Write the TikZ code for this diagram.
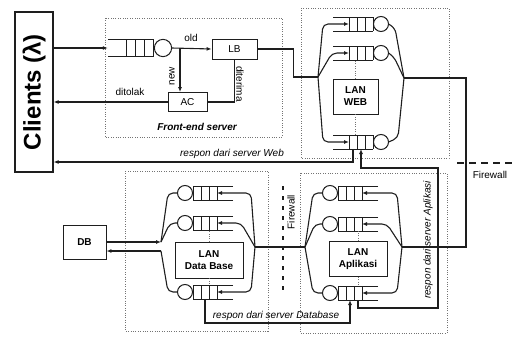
\documentclass[tikz,border=0pt]{standalone}
\usepackage{fontspec}
\setmainfont{Liberation Sans}
\usetikzlibrary{arrows.meta}
\definecolor{ink}{HTML}{1E1E1E}

% queue: server circle at (0,0), open tail to the left (xscale=-1 turns it round)
\newcommand\drawqueue[3][]{%
  \begin{scope}[shift={(#3)},#1]
    \draw[q] (0,0) circle (7.5);
    \draw[q] (-48,-7) -- (-8,-7) (-48,7) -- (-8,7);
    \foreach \bx in {-8,-16,-24,-32} \draw[q] (\bx,-7) -- (\bx,7);
    \coordinate (#2-in) at (-32,0);
    \coordinate (#2-out) at (7.5,0);
    \coordinate (#2-tail) at (-48,0);
    \coordinate (#2-t) at (-20,-7);
    \coordinate (#2-bA) at (-28,7);
    \coordinate (#2-bB) at (-20,7);
  \end{scope}}

\begin{document}
\begin{tikzpicture}[
  x=1pt, y=-1pt,
  >={Latex[length=5pt,width=4pt]},
  w/.style={draw=ink, line width=1.1pt},
  q/.style={draw=ink, line width=1pt},
  b/.style={draw=ink, line width=0.9pt, align=center, inner sep=1pt},
  grp/.style={draw=black!55, line width=0.8pt, dash pattern=on 0.8pt off 1.6pt},
  fw/.style={draw=ink, line width=1.8pt, dash pattern=on 7pt off 5pt},
  ital/.style={font=\itshape, inner sep=1pt},
  lbl/.style={inner sep=1pt}
]
  \useasboundingbox (0,0) rectangle (515,343);

  % clients
  \node[b, line width=1.2pt, minimum width=38pt, minimum height=160pt,
        font=\fontsize{24}{28}\selectfont\bfseries] (Clients) at (34,92) {\rotatebox{90}{Clients (λ)}};
  \coordinate (rw) at (0,162);

  % front-end server
  \draw[grp] (105,18) rectangle (282,137);
  \drawqueue[scale=1.15]{fq}{163,48}
  \node[b, minimum width=45pt, minimum height=20pt] (LB) at (234.5,49) {LB};
  \node[b, minimum width=39pt, minimum height=19pt] (AC) at (187.5,102) {AC};
  \coordinate (jf) at (180,48);
  \draw[w,->] (Clients.east |- fq-tail) -- (fq-tail);
  \draw[w,->] (fq-out) -- (LB.west);
  \draw[w,->] (jf) -- (jf |- AC.north);
  \draw[w] (AC.east) -| (LB.south);
  \draw[w,->] (AC.west) -- (AC.west -| Clients.east);
  \node[lbl] (old) at (191,38) {old};
  \node[lbl, rotate=90] (new) at (172,76) {new};
  \node[lbl, rotate=-90] (acc) at (240,84) {diterima};
  \node[lbl] (rej) at (130,92) {ditolak};
  \node[font=\bfseries\itshape] (fe) at (197,127) {Front-end server};

  % LAN WEB
  \draw[grp] (301,8) rectangle (449,158);
  \drawqueue{w1}{381,24}
  \drawqueue{w2}{381,53}
  \drawqueue{w3}{381,142}
  \node[b, font=\bfseries, minimum width=45pt, minimum height=35pt] (web) at (355.5,96.5) {LAN\\WEB};
  \draw[grp] (web.north) -- (web.north |- w2-bB);
  \draw[grp] (web.south) -- (web.south |- w3-t);
  \coordinate (jwl) at (318,77);
  \coordinate (jwr) at (404,78);
  \draw[w] (LB.east) -- ++(36,0) |- (jwl);
  \draw[w,->,rounded corners=5pt] (jwl) -- (323,24) -- (w1-in);
  \draw[w,->,rounded corners=5pt] (jwl) -- (332,53) -- (w2-in);
  \draw[w,->,rounded corners=5pt] (jwl) -- (323,142) -- (w3-in);
  \draw[w,rounded corners=5pt] (w1-out) -- (395,28) -- (jwr);
  \draw[w,rounded corners=5pt] (w2-out) -- (394,57) -- (jwr);
  \draw[w,rounded corners=5pt] (w3-out) -- (398,138) -- (jwr);

  % firewall
  \coordinate (fwa) at (457,163);
  \coordinate (fwb) at (515,163);
  \draw[fw] (fwa) -- (fwb);
  \node[lbl] (fwl) at (490,175) {Firewall};
  \coordinate (fva) at (283,186);
  \coordinate (fvb) at (283,292);
  \draw[fw, line width=1.6pt, dash pattern=on 4pt off 6pt] (fva) -- (fvb);
  \node[lbl, rotate=90] (fvl) at (291,212) {Firewall};

  % LAN Data Base
  \draw[grp] (125,171) rectangle (268,331);
  \drawqueue[xscale=-1]{d1}{185,193}
  \drawqueue[xscale=-1]{d2}{185,223}
  \drawqueue[xscale=-1]{d3}{185,292}
  \node[b, font=\bfseries, minimum width=68pt, minimum height=36pt] (dbase) at (209,260) {LAN\\Data Base};
  \draw[grp] (dbase.north) -- (dbase.north |- d2-bB);
  \draw[grp] (dbase.south) -- (dbase.south |- d3-t);
  \node[b, font=\bfseries, minimum width=43pt, minimum height=34pt] (DB) at (84.5,242) {DB};
  \coordinate (jdl1) at (161,242);
  \coordinate (jdl2) at (161,251);
  \coordinate (jdr) at (255,247);
  \draw[w,->] (DB.east |- jdl1) -- (jdl1);
  \draw[w,->] (jdl2) -- (DB.east |- jdl2);
  \draw[w,rounded corners=5pt] (d1-out) -- (168,193) -- (jdl1);
  \draw[w,rounded corners=5pt] (d2-out) -- (170,223) -- (jdl1);
  \draw[w,rounded corners=5pt] (d3-out) -- (168,292) -- (jdl2);
  \draw[w,->,rounded corners=5pt] (jdr) -- (251,193) -- (d1-in);
  \draw[w,->,rounded corners=5pt] (jdr) -- (241,223) -- (d2-in);
  \draw[w,->,rounded corners=5pt] (jdr) -- (251,292) -- (d3-in);

  % LAN Aplikasi
  \draw[grp] (300,173) rectangle (447,333);
  \drawqueue[xscale=-1]{a1}{330,193}
  \drawqueue[xscale=-1]{a2}{330,224}
  \drawqueue[xscale=-1]{a3}{330,293}
  \node[b, font=\bfseries, minimum width=58pt, minimum height=35pt] (app) at (358,259) {LAN\\Aplikasi};
  \draw[grp] (app.north) -- (app.north |- a2-bB);
  \draw[grp] (app.south) -- (app.south |- a3-t);
  \coordinate (jal) at (305,247);
  \coordinate (jar) at (402,247);
  \draw[w,rounded corners=5pt] (a1-out) -- (313,193) -- (jal);
  \draw[w,rounded corners=5pt] (a2-out) -- (315,224) -- (jal);
  \draw[w,rounded corners=5pt] (a3-out) -- (313,293) -- (jal);
  \draw[w,->,rounded corners=5pt] (jar) -- (397,193) -- (a1-in);
  \draw[w,->,rounded corners=5pt] (jar) -- (387,224) -- (a2-in);
  \draw[w,->,rounded corners=5pt] (jar) -- (397,293) -- (a3-in);

  % links between the LANs
  \draw[w] (jdr) -- (jal);
  \draw[w] (jwr) -| (466,247) -- (jar);

  % responses
  \coordinate (rd) at (0,323);
  \draw[w,->] (w3-bA) |- (Clients.east |- rw);
  \draw[w,->] (a3-bA) -- ++(0,8) -| (438,168) -| (w3-bB);
  \draw[w,->] (d3-bB) -- (d3-bB |- rd) -| (a3-bB);
  \node[ital] (rwl) at (232,154) {respon dari server Web};
  \node[ital, rotate=90] (ral) at (428,240) {respon dari server Aplikasi};
  \node[ital] (rdl) at (276,316) {respon dari server Database};
\end{tikzpicture}
\end{document}
